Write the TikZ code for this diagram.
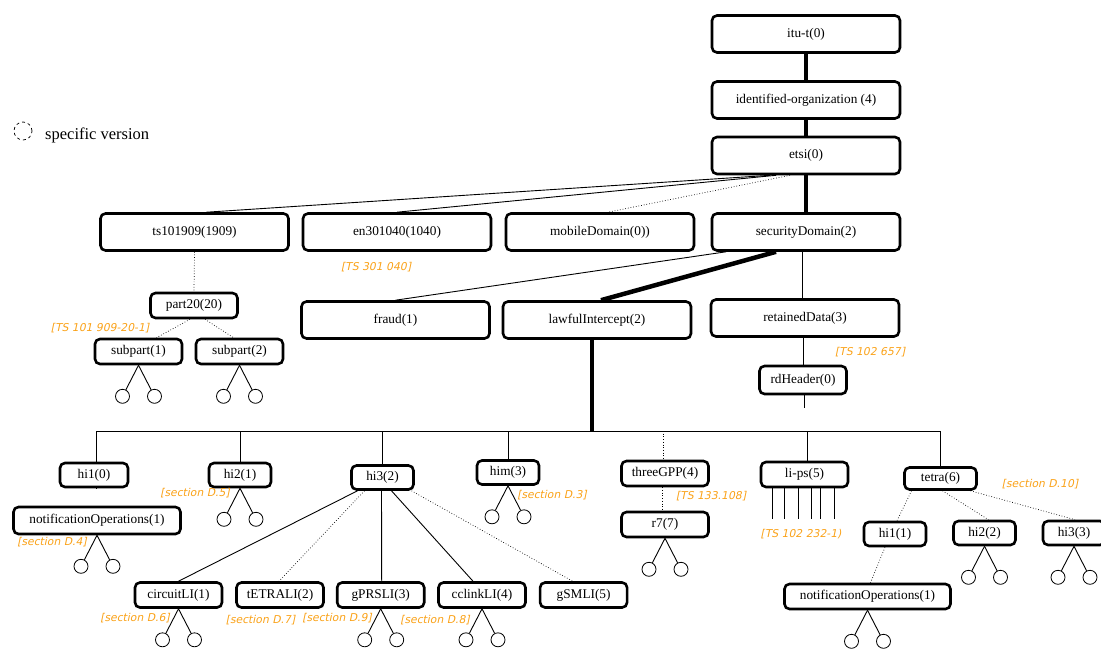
\documentclass[tikz,border=0pt]{standalone}
\usepackage{fontspec}
\setmainfont{Liberation Serif}
\newfontfamily\reffont{DejaVu Sans}[FakeSlant=0.21]
\usetikzlibrary{positioning}
\definecolor{reforange}{RGB}{250,162,25}
\tikzset{
  oid/.style={draw, line width=2.6pt, rounded corners=5pt, fill=white, inner sep=0pt, font=\fontsize{13.3}{15}\selectfont},
  bigoid/.style={oid, minimum width=188pt, minimum height=37pt},
  midoid/.style={oid, minimum width=87pt, minimum height=25pt},
  hioid/.style={oid, minimum width=62pt, minimum height=24pt},
  leaf/.style={draw, circle, line width=0.8pt, minimum size=14pt, inner sep=0pt},
  specref/.style={text=reforange, inner sep=0pt, font=\reffont\fontsize{10.8}{12}\selectfont},
  branch/.style={line width=0.9pt},
  optbranch/.style={line width=0.7pt, dotted},
  trunk/.style={line width=4.5pt},
}
\newcommand{\leafpair}[1]{
  \node[leaf] (#1-l) at ([shift={(-16,31)}]#1.south) {};
  \node[leaf] (#1-r) at ([shift={(16,31)}]#1.south) {};
  \draw[branch] (#1.south) -- (#1-l);
  \draw[branch] (#1.south) -- (#1-r);
}
\begin{document}
\begin{tikzpicture}[x=1pt, y=-1pt]
\useasboundingbox (0,0) rectangle (1101,651);

\node[leaf, dashed, minimum size=18pt, line width=0.7pt] (legend) at (23,131) {};
\node[anchor=west, inner sep=0pt, font=\fontsize{16.5}{18}\selectfont] (legendtext) at (45,135) {specific version};

\node[bigoid] (itut) at (806,34) {itu-t(0)};
\node[bigoid] (identorg) at (806,100) {identified-organization (4)};
\node[bigoid] (etsi) at (806,155.5) {etsi(0)};
\node[bigoid] (ts) at (194.5,232) {ts101909(1909)};
\node[bigoid] (en) at (397,232) {en301040(1040)};
\node[bigoid] (mobile) at (600,232) {mobileDomain(0))};
\node[bigoid] (security) at (806,232) {securityDomain(2)};
\node[bigoid] (fraud) at (395.5,320) {fraud(1)};
\node[bigoid] (lawful) at (597,320) {lawfulIntercept(2)};
\node[bigoid] (retained) at (805,318) {retainedData(3)};
\node[midoid, minimum height=28pt] (rdheader) at (803,380) {rdHeader(0)};

\node[midoid] (part20) at (194,305.5) {part20(20)};
\node[midoid] (subpart1) at (138.5,351.5) {subpart(1)};
\node[midoid] (subpart2) at (239.5,351.5) {subpart(2)};

\node[hioid, minimum width=68pt] (hizero) at (94,475) {hi1(0)};
\node[oid, minimum width=167pt, minimum height=27pt] (notifleft) at (97,520.5) {notificationOperations(1)};
\node[hioid] (hitwo) at (240,475) {hi2(1)};
\node[hioid] (hithree) at (382.5,477.5) {hi3(2)};
\node[hioid] (him) at (508,472.5) {him(3)};
\node[midoid] (threegpp) at (665,473.5) {threeGPP(4)};
\node[midoid] (rseven) at (665,524.5) {r7(7)};
\node[midoid] (lips) at (804.5,474.5) {li-ps(5)};
\node[oid, minimum width=72pt, minimum height=22pt] (tetra) at (940.5,478.5) {tetra(6)};
\node[hioid] (thione) at (895,534) {hi1(1)};
\node[hioid] (thitwo) at (984.5,533) {hi2(2)};
\node[hioid] (thithree) at (1074,533) {hi3(3)};
\node[oid, minimum width=166pt, minimum height=25pt] (tnotif) at (867.5,596.5) {notificationOperations(1)};

\node[midoid] (circuit) at (178.5,595) {circuitLI(1)};
\node[midoid] (tetrali) at (280,595) {tETRALI(2)};
\node[midoid] (gprs) at (380.7,595) {gPRSLI(3)};
\node[midoid] (cclink) at (482,595) {cclinkLI(4)};
\node[midoid] (gsm) at (583.6,595) {gSMLI(5)};

\draw[trunk] (itut) -- (identorg);
\draw[trunk] (identorg) -- (etsi);
\draw[trunk] (etsi) -- (security);
\draw[branch] ([xshift=-36pt]etsi.south) -- ([xshift=12pt]ts.north);
\draw[branch] ([xshift=-30pt]etsi.south) -- (en.north);
\draw[optbranch] ([xshift=-16pt]etsi.south) -- ([xshift=8pt]mobile.north);
\draw[branch] ([xshift=-80pt]security.south) -- (fraud.north);
\draw[trunk] ([xshift=-30pt]security.south) -- ([xshift=4pt]lawful.north);
\draw[branch] ([xshift=-4pt]security.south) -- ([xshift=-3pt]retained.north);
\draw[branch] ([xshift=-2pt]retained.south) -- (rdheader.north);
\coordinate (rdend) at (804,408);
\draw[branch] ([xshift=1pt]rdheader.south) -- (rdend);

\draw[optbranch] (ts.south) -- (part20.north);
\draw[optbranch] ([xshift=-4pt]part20.south) -- ([xshift=18pt]subpart1.north);
\draw[optbranch] ([xshift=11pt]part20.south) -- ([xshift=-6pt]subpart2.north);

\coordinate (busleft) at (96,431);
\coordinate (busright) at (940.5,431);
\draw[branch] (busleft) -- (busright);
\draw[trunk] ([xshift=-5pt]lawful.south) -- ([xshift=-5pt]lawful.south |- busleft);
\draw[branch] (busleft) -- (busleft |- hizero.north);
\draw[branch] (hitwo.north |- busleft) -- (hitwo.north);
\draw[branch] (hithree.north |- busleft) -- (hithree.north);
\draw[branch] (him.north |- busleft) -- (him.north);
\draw[optbranch] ([xshift=-2pt]threegpp.north |- busleft) -- ([xshift=-2pt]threegpp.north);
\draw[branch] ([xshift=3pt]lips.north |- busleft) -- ([xshift=3pt]lips.north);
\draw[branch] (busright) -- (tetra.north);

\draw[branch] ([xshift=2pt]hizero.south) -- (hizero.south -| notifleft.north);
\draw[branch] ([xshift=-25pt]hithree.south) -- (circuit.north);
\draw[optbranch] ([xshift=-18pt]hithree.south) -- ([xshift=-1pt]tetrali.north);
\draw[branch] ([xshift=-1pt]hithree.south) -- ([xshift=1pt]gprs.north);
\draw[branch] ([xshift=9pt]hithree.south) -- ([xshift=-9pt]cclink.north);
\draw[optbranch] ([xshift=29pt]hithree.south) -- ([xshift=-11pt]gsm.north);
\draw[optbranch] ([xshift=-3pt]threegpp.south) -- ([xshift=-3pt]rseven.north);
\foreach \dx [count=\i] in {-32,-20,-6,7,16,30}{
  \coordinate (lipsend\i) at ([shift={(\dx,31)}]lips.south);
  \draw[branch] ([xshift=\dx pt]lips.south) -- (lipsend\i);
}
\draw[optbranch] ([xshift=-29pt]tetra.south) -- ([xshift=2pt]thione.north);
\draw[optbranch] ([xshift=2pt]tetra.south) -- ([xshift=4pt]thitwo.north);
\draw[optbranch] ([xshift=30pt]tetra.south) -- ([xshift=1pt]thithree.north);
\draw[optbranch] ([xshift=-10pt]thione.south) -- ([xshift=3pt]tnotif.north);

\leafpair{subpart1}
\leafpair{subpart2}
\leafpair{notifleft}
\leafpair{hitwo}
\leafpair{him}
\leafpair{circuit}
\leafpair{gprs}
\leafpair{cclink}
\leafpair{rseven}
\leafpair{thitwo}
\leafpair{thithree}
\leafpair{tnotif}

\node[specref] (refen) at (376,267) {[TS 301 040]};
\node[specref] (refpart) at (100,328) {[TS 101 909-20-1]};
\node[specref] (refrd) at (870,352) {[TS 102 657]};
\node[specref] (refdfour) at (52,542) {[section D.4]};
\node[specref] (refdfive) at (195,493) {[section D.5]};
\node[specref] (refdthree) at (552,495) {[section D.3]};
\node[specref] (refgpp) at (711,496) {[TS 133.108]};
\node[specref] (reflips) at (801,534) {[TS 102 232-1)};
\node[specref] (refdten) at (1040,484) {[section D.10]};
\node[specref] (refdsix) at (135,618) {[section D.6]};
\node[specref] (refdseven) at (260.5,620) {[section D.7]};
\node[specref] (refdnine) at (337,618) {[section D.9]};
\node[specref] (refdeight) at (435,620) {[section D.8]};
\end{tikzpicture}
\end{document}
